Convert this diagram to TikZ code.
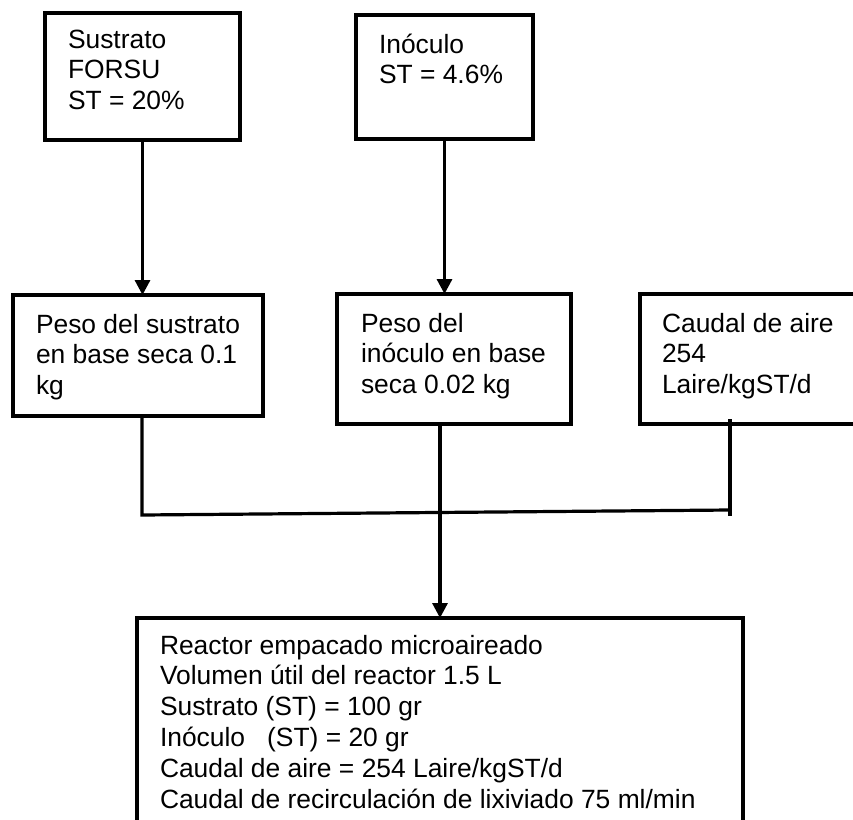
\documentclass[tikz,border=0pt]{standalone}
\usepackage{fontspec}
\setmainfont{Liberation Sans}
\usetikzlibrary{arrows.meta}
\tikzset{
  box/.style={draw, rectangle, line width=3.2pt, inner sep=0pt, outer sep=0pt},
  txt/.style={inner sep=0pt, outer sep=0pt, anchor=base west, font=\fontsize{26.4}{30.8}\selectfont},
  conn/.style={line width=3.2pt},
  arr/.style={line width=3.2pt, -{Triangle[width=15pt,length=15pt]}},
}
\begin{document}
\begin{tikzpicture}[x=1pt,y=-1pt]
\useasboundingbox (0,0) rectangle (853,819);
\clip (0,0) rectangle (853,819);
% boxes
\node[box, minimum width=195pt, minimum height=127pt] (b1) at (142.5,76.5) {};
\node[box, minimum width=177pt, minimum height=124pt] (b2) at (444.5,77) {};
\node[box, minimum width=250pt, minimum height=121pt] (b3) at (138,355.5) {};
\node[box, minimum width=234pt, minimum height=130pt] (b4) at (454,359) {};
\node[box, minimum width=260pt, minimum height=130pt] (b5) at (770,359) {};
\node[box, minimum width=606pt, minimum height=282pt] (b6) at (440,759) {};
% texts
\node[txt] (t1) at (68,48) {\vtop{\hbox{Sustrato}\hbox{FORSU}\hbox{ST = 20\%}}};
\node[txt] (t2) at (379,53) {\vtop{\hbox{Inóculo}\hbox{ST = 4.6\%}}};
\node[txt] (t3) at (36,333) {\vtop{\hbox{Peso del sustrato}\hbox{en base seca 0.1}\hbox{kg}}};
\node[txt] (t4) at (361,332) {\vtop{\hbox{Peso del}\hbox{inóculo en base}\hbox{seca 0.02 kg}}};
\node[txt] (t5) at (662,332) {\vtop{\hbox{Caudal de aire}\hbox{254}\hbox{Laire/kgST/d}}};
\node[txt] (t6) at (160,654) {\vtop{\hbox{Reactor empacado microaireado}\hbox{Volumen útil del reactor 1.5 L}\hbox{Sustrato (ST) = 100 gr}\hbox{Inóculo \ \ (ST) = 20 gr}\hbox{Caudal de aire = 254 Laire/kgST/d}\hbox{Caudal de recirculación de lixiviado 75 ml/min}}};
% connectors
\draw[arr] (b1.south) -- (b1.south |- b3.north);
\draw[arr] (b2.south) -- (b2.south |- b4.north);
\coordinate (jl) at (142,515);
\coordinate (jr) at (730,510);
\coordinate (j) at (440,512.5);
\coordinate (rt) at (730,419);
\coordinate (rb) at (730,516);
\draw[conn] (b3.south -| jl) -- (jl) -- (jr);
\draw[conn] (rt) -- (rb);
\draw[conn] (b4.south -| j) -- (j);
\draw[arr] (j) -- (j |- b6.north);
\end{tikzpicture}
\end{document}
